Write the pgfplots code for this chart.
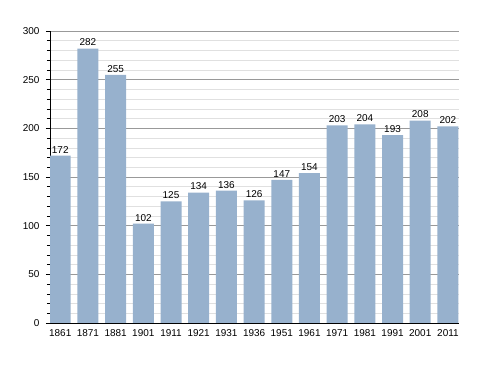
\documentclass[border=0pt]{standalone}
\usepackage{pgfplots}
\pgfplotsset{compat=1.18}
\usepackage{fontspec}
\setmainfont{Liberation Sans}
\definecolor{barc}{RGB}{151,177,205}
\begin{document}
\begin{tikzpicture}
\path[use as bounding box] (-50bp,-50bp) rectangle (438bp,323bp);
\begin{axis}[
  at={(0,0)}, anchor=south west,
  scale only axis, width=409bp, height=292bp,
  xmin=-0.37, xmax=14.4, ymin=0, ymax=300,
  axis x line*=bottom, axis y line*=left,
  axis line style={black, line width=0.8pt, -},
  xtick={0,...,14},
  xticklabels={1861,1871,1881,1901,1911,1921,1931,1936,1951,1961,1971,1981,1991,2001,2011},
  x tick style={draw=none},
  ytick={0,50,...,300},
  minor ytick={10,20,30,40,60,70,80,90,110,120,130,140,160,170,180,190,210,220,230,240,260,270,280,290},
  ytick align=outside, major tick length=4bp, minor tick length=3bp,
  y tick style={black, line width=0.6pt},
  ymajorgrids, yminorgrids,
  major grid style={draw=black!40, line width=0.6pt},
  minor grid style={draw=black!12, line width=0.5pt},
  tick label style={font=\fontsize{10}{12}\selectfont},
  /pgf/number format/assume math mode=true,
  xticklabel style={yshift=1bp},
  yticklabel style={xshift=-3bp},
  ybar, bar width=21bp,
  nodes near coords,
  every node near coord/.append style={font=\fontsize{10}{12}\selectfont, black, yshift=-1bp},
]
\addplot[fill=barc, draw=none] coordinates {
(0,172) (1,282) (2,255) (3,102) (4,125) (5,134) (6,136) (7,126) (8,147) (9,154) (10,203) (11,204) (12,193) (13,208) (14,202)};
\end{axis}
\end{tikzpicture}
\end{document}
